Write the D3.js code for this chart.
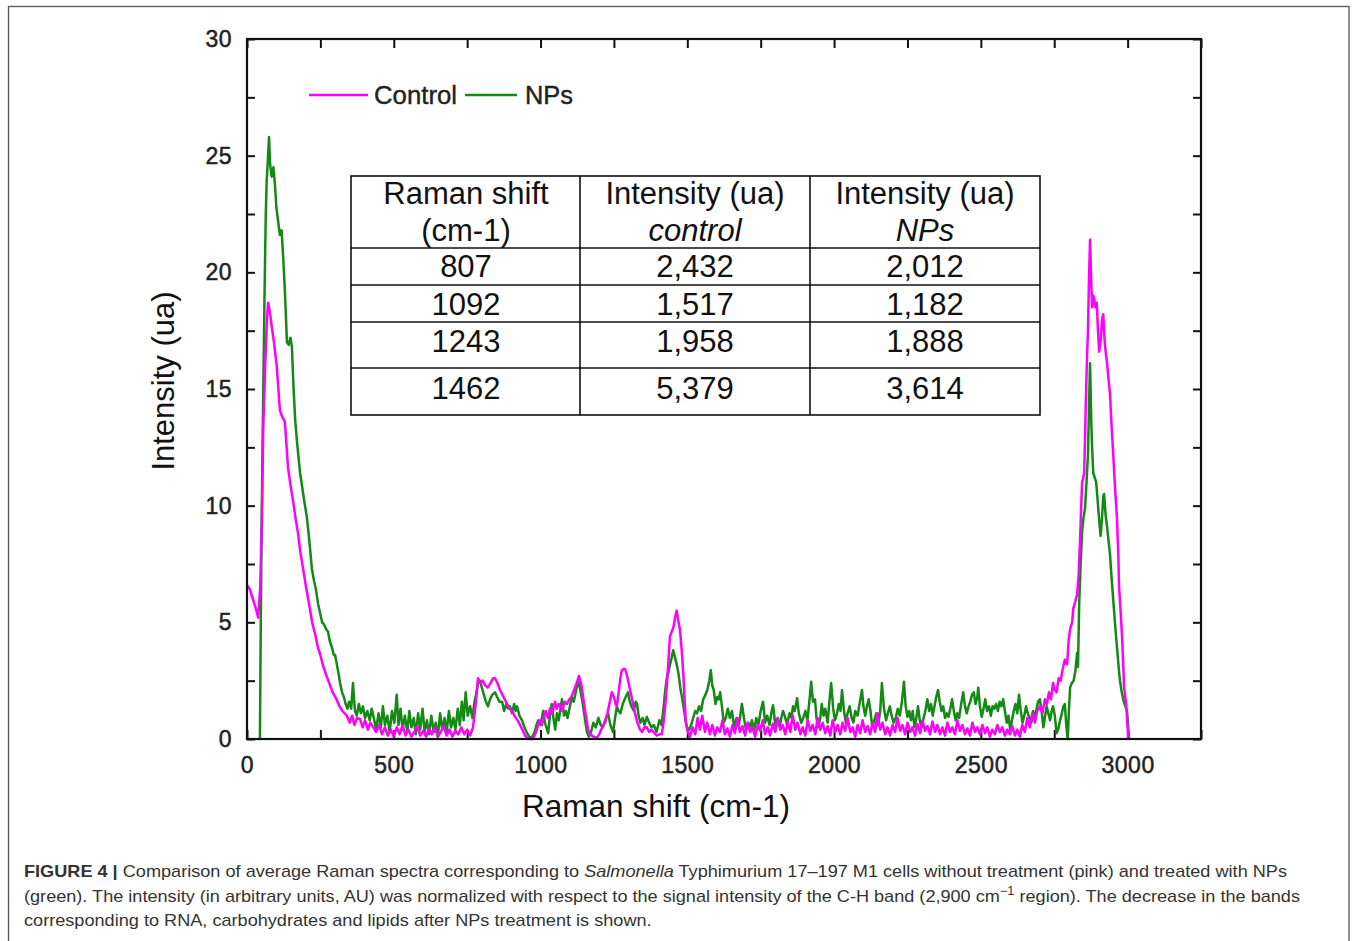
<!DOCTYPE html>
<html>
<head>
<meta charset="utf-8">
<script src="https://cdn.jsdelivr.net/npm/d3@7"></script>
<style>
  html, body { margin: 0; padding: 0; background: #fff; }
  svg { display: block; font-family: "Liberation Sans", Arial, Helvetica, sans-serif; }
</style>
</head>
<body>
<svg id="chart" width="1357" height="941"></svg>
<script>
// ---------------- DATA ----------------
const seriesNames = ["Control", "NPs"];
const xTickValues = [0, 500, 1000, 1500, 2000, 2500, 3000];
const yTickValues = [0, 5, 10, 15, 20, 25, 30];

// Control (pink) spectrum: [Raman shift, intensity]
const controlSpectrum = [
[0,6.6],[10,6.4],[20,6.0],[30,5.6],[38,5.2],[45,6.5],[51,9.5],[55,13.2],[62,16.0],[68,18.0],[72,18.7],[78,18.3],[84,17.7],[92,17.0],[101,16.0],[107,15.0],[112,14.1],[120,13.8],[129,13.6],[135,12.5],[140,11.6],[148,10.9],[157,10.2],[165,9.5],[174,8.8],[182,8.0],[191,7.3],[200,6.6],[207,6.1],[214,5.6],[222,5.0],[232,4.5],[242,3.9],[250,3.6],[260,3.1],[271,2.7],[280,2.4],[292,2.0],[305,1.7],[315,1.4],[325,1.2],[340,1.0],[350,0.7],[358,1.0],[366,0.6],[375,0.9],[385,0.85],[394,0.5],[402,0.8],[412,0.4],[420,0.7],[430,0.5],
[440,0.3],[450,0.6],[460,0.2],[470,0.5],[480,0.15],[490,0.4],[500,0.1],[510,0.5],[520,0.2],[530,0.6],[540,0.15],[550,0.4],[560,0.1],[570,0.3],[580,0.55],[590,0.15],[600,0.35],[610,0.1],[620,0.45],[630,0.2],[640,0.5],[650,0.1],[660,0.3],[670,0.55],[680,0.15],[690,0.4],[700,0.1],[710,0.35],[720,0.2],[730,0.5],[740,0.2],[750,0.4],[760,0.15],[770,0.5],
[780,1.6],[787,2.6],[795,2.4],[803,2.5],[811,2.3],[820,2.2],[830,2.4],[838,2.6],[845,2.6],[853,2.4],[862,2.1],[870,1.9],[878,1.7],[886,1.5],[895,1.3],[904,1.2],[913,0.95],[922,0.8],[930,0.6],[938,0.4],[947,0.15],[955,0.05],[965,0.0],[974,0.0],[985,0.3],[992,0.6],[998,0.8],[1005,0.6],[1012,1.0],[1018,1.2],[1025,0.9],[1032,1.3],[1040,1.1],[1049,1.6],[1055,1.3],[1062,1.5],[1066,1.45],[1074,1.2],[1082,1.6],[1090,1.5],[1098,1.7],[1105,1.8],[1111,2.0],[1120,2.3],[1126,2.5],[1131,2.7],[1138,2.4],[1145,1.8],[1152,1.2],[1158,0.7],[1162,0.4],[1170,0.2],[1180,0.1],[1192,0.05],[1200,0.2],[1210,0.5],[1220,0.7],[1228,1.1],[1236,1.6],[1243,2.0],[1250,1.8],[1256,1.5],[1260,1.4],[1266,2.0],[1272,2.6],[1277,2.95],[1283,3.0],[1288,3.0],[1295,2.7],[1300,2.4],[1305,2.1],[1312,1.7],[1318,1.3],[1322,1.1],[1330,0.7],[1339,0.4],[1346,0.3],[1354,0.5],[1362,0.5],[1370,0.3],[1378,0.4],[1385,0.3],[1395,0.15],[1405,0.2],[1413,0.2],[1420,0.8],[1426,1.6],[1431,2.4],[1436,3.4],[1441,4.4],[1447,4.6],[1453,4.8],[1458,5.2],[1464,5.5],[1470,5.0],[1475,4.7],[1481,3.8],[1487,2.65],[1491,1.6],[1495,0.7],[1502,0.3],[1509,0.1],
[1518,0.5],[1527,0.2],[1535,0.9],[1543,0.4],[1551,1.0],[1560,0.3],[1568,0.7],[1577,0.2],[1585,0.6],[1594,0.15],[1602,0.5],[1611,0.3],[1620,0.8],[1628,0.2],[1637,0.45],[1645,0.1],[1654,0.6],[1662,0.25],[1671,0.9],[1679,0.3],[1688,0.55],[1697,0.15],[1705,0.7],[1714,0.3],[1722,0.5],[1731,0.1],[1740,0.6],[1748,0.35],[1757,0.8],[1765,0.2],[1774,0.5],[1782,0.15],[1791,0.65],[1800,0.3],[1808,0.9],[1817,0.4],[1825,0.6],[1834,0.2],[1842,0.75],[1851,0.3],[1859,1.0],[1868,0.4],[1876,0.7],[1885,0.2],[1893,0.5],[1902,0.15],[1910,0.8],[1919,0.35],[1927,0.6],[1936,0.2],[1944,0.9],[1953,0.4],[1961,0.7],[1970,0.25],[1978,0.55],[1987,0.15],[1995,0.8],[2004,0.3],[2012,0.6],[2021,0.2],[2029,0.7],[2038,0.35],[2046,0.9],[2055,0.3],[2063,0.5],[2072,0.1],[2080,0.6],[2089,0.25],[2097,0.8],[2106,0.3],[2114,0.55],[2123,0.2],[2131,0.7],[2140,0.3],[2148,1.1],[2157,0.4],[2165,0.7],[2174,0.2],[2182,0.5],[2191,0.15],[2199,0.6],[2208,0.3],[2216,0.9],[2225,0.35],[2233,0.6],[2242,0.2],[2250,0.7],[2259,0.3],[2267,0.5],[2276,0.15],[2284,0.65],[2293,0.25],[2301,0.8],[2310,0.35],[2318,0.55],[2327,0.2],[2335,0.75],[2344,0.3],[2352,0.6],[2361,0.2],[2369,0.5],[2378,0.15],[2386,0.7],[2395,0.3],[2403,0.5],[2412,0.2],[2420,0.8],[2429,0.35],[2437,0.6],[2446,0.2],[2454,0.45],[2463,0.15],[2471,0.7],[2480,0.3],[2488,0.5],[2497,0.2],[2505,0.6],[2514,0.25],[2522,0.5],[2531,0.1],[2539,0.4],[2548,0.2],[2556,0.6],[2565,0.3],[2573,0.5],[2582,0.15],[2590,0.4],[2599,0.2],[2607,0.55],[2616,0.15],[2624,0.4],[2633,0.1],[2641,0.6],[2650,0.3],[2658,0.9],[2667,0.5],[2675,1.1],[2684,0.7],[2692,1.2],[2701,1.4],[2710,1.1],[2718,1.7],[2725,1.5],[2732,2.0],[2739,1.7],[2746,2.4],[2752,2.1],[2758,2.0],[2765,2.6],[2772,2.5],[2779,3.0],[2786,3.4],[2794,3.2],[2799,4.2],[2804,4.7],[2811,5.0],[2815,5.6],[2822,5.9],[2828,6.2],[2833,7.0],[2838,8.5],[2842,10.0],[2845,11.0],[2849,11.2],[2852,11.4],[2856,13.5],[2859,15.1],[2862,16.5],[2865,17.5],[2868,19.5],[2872,21.4],[2875,20.0],[2879,18.5],[2883,19.0],[2886,18.9],[2890,18.5],[2895,18.7],[2899,17.5],[2903,16.6],[2908,17.0],[2913,18.0],[2917,18.2],[2922,17.0],[2926,16.5],[2930,16.1],[2935,15.4],[2940,14.8],[2945,13.5],[2951,12.2],[2957,10.8],[2964,9.4],[2968,8.0],[2971,6.5],[2976,5.5],[2981,4.4],[2985,3.2],[2988,2.2],[2995,1.5],[3000,0.5],[3002,0.0]
];

// NPs (green) spectrum: [Raman shift, intensity]
const npsSpectrum = [
[40,0],[44,0],[47,5.0],[50,9.5],[55,14.5],[60,19.3],[64,22.5],[67,23.9],[71,24.8],[75,25.8],[79,24.6],[84,24.1],[90,24.5],[95,23.8],[100,22.8],[106,22.2],[112,21.6],[118,21.8],[123,20.7],[128,19.5],[133,18.0],[136,17.0],[142,16.9],[148,17.2],[153,16.8],[158,15.2],[164,13.7],[170,12.8],[176,12.0],[181,11.4],[188,10.8],[195,10.2],[204,9.5],[210,8.8],[216,8.0],[221,7.3],[228,6.8],[235,6.4],[242,5.8],[249,5.4],[256,5.0],[263,4.9],[270,4.7],[276,4.6],[282,4.2],[290,3.9],[296,3.6],[300,3.6],[306,3.2],[312,2.8],[317,2.4],[324,2.0],[330,1.8],[336,1.5],[342,1.3],[348,1.6],[355,1.3],[361,2.4],[366,1.5],[368,1.2],[374,1.0],[381,1.5],[388,1.1],[395,1.4],[402,0.9],[410,1.2],[418,0.8],[425,1.3],[432,0.9],
[440,0.4],[448,1.1],[456,0.5],[463,1.4],[470,0.6],[478,1.0],[486,0.3],[494,1.2],[502,0.7],[510,1.9],[516,0.6],[523,1.3],[530,0.4],[538,1.0],[546,0.3],[553,1.2],[560,0.5],[568,0.9],[575,0.2],[583,1.1],[590,0.4],[598,1.3],[605,0.3],[613,0.8],[620,0.2],[628,1.0],[636,0.3],[643,0.7],[650,0.1],[658,1.1],[665,0.4],[673,0.9],[680,0.3],[688,1.2],[695,0.5],[703,0.9],[710,0.4],[718,1.3],[725,0.6],[732,1.6],[738,0.8],[745,2.0],[752,1.0],[760,1.4],[768,0.9],[775,1.6],
[782,2.0],[788,2.5],[794,2.5],[800,2.2],[807,1.9],[814,1.6],[821,1.4],[828,1.7],[836,1.9],[845,2.0],[852,1.8],[860,1.6],[869,1.6],[876,1.2],[883,1.5],[890,1.3],[896,1.4],[903,1.1],[910,1.5],[915,1.2],[920,1.4],[928,1.0],[937,0.8],[945,0.5],[954,0.25],[962,0.1],[970,0.05],[980,0.3],[986,0.6],[992,0.8],[1000,0.6],[1009,1.2],[1015,0.7],[1020,0.5],[1026,0.25],[1032,1.0],[1038,1.5],[1044,0.9],[1050,0.4],[1056,1.1],[1062,0.8],[1068,1.3],[1073,1.7],[1080,1.0],[1086,1.2],[1092,0.9],[1100,1.4],[1107,1.8],[1113,1.6],[1120,2.0],[1128,2.5],[1134,2.2],[1140,1.8],[1145,1.4],[1152,0.8],[1158,0.3],[1165,0.1],[1172,0.3],[1180,0.7],[1188,0.5],[1197,0.9],[1205,0.6],[1212,0.5],[1220,0.8],[1230,1.1],[1238,0.6],[1247,0.3],[1254,0.9],[1260,1.4],[1266,1.2],[1272,1.1],[1280,1.5],[1290,1.8],[1298,2.0],[1304,1.6],[1310,1.4],[1318,1.2],[1324,1.6],[1329,1.5],[1334,1.0],[1340,0.7],[1348,0.9],[1354,0.6],[1362,0.95],[1370,0.7],[1378,0.5],[1386,0.6],[1395,0.3],[1405,0.8],[1412,0.6],[1418,1.2],[1424,2.0],[1430,2.6],[1436,2.9],[1441,3.2],[1447,3.5],[1452,3.8],[1458,3.5],[1464,3.2],[1470,2.8],[1476,2.2],[1482,1.8],[1488,1.3],[1494,0.8],[1499,0.5],
[1506,0.4],[1513,0.6],[1520,0.9],[1527,1.2],[1533,1.1],[1540,1.4],[1547,1.2],[1554,1.7],[1562,1.9],[1568,2.1],[1575,2.5],[1580,2.95],[1585,2.3],[1590,2.1],[1596,1.5],[1602,1.8],[1607,1.7],[1612,2.0],[1618,1.4],[1624,0.7],[1631,0.9],[1638,1.3],[1645,0.9],[1652,1.2],[1660,0.5],[1668,0.9],[1676,0.6],[1686,1.5],[1693,0.9],[1700,0.4],[1708,0.7],[1715,0.5],[1720,0.8],[1728,0.4],[1735,0.9],[1742,0.6],[1750,1.2],[1758,1.6],[1765,0.7],[1772,1.0],[1780,0.6],[1786,1.1],[1792,1.45],[1800,0.6],[1808,0.9],[1815,0.5],[1820,0.9],[1826,1.2],[1833,0.95],[1840,0.6],[1848,1.1],[1855,0.9],[1860,1.4],[1866,1.2],[1874,1.75],[1880,1.1],[1888,0.7],[1895,0.9],[1902,1.2],[1909,0.8],[1915,1.5],[1922,2.45],[1928,1.6],[1935,1.7],[1940,0.9],[1946,0.5],[1953,0.9],[1958,1.5],[1964,1.0],[1970,1.3],[1978,0.7],[1984,1.6],[1990,2.4],[1997,1.3],[2003,0.8],[2010,1.1],[2016,1.5],[2022,1.2],[2027,2.1],[2034,1.2],[2040,0.7],[2046,1.1],[2053,1.4],[2060,0.9],[2066,0.7],[2072,1.2],[2080,1.0],[2088,1.6],[2095,2.1],[2100,1.4],[2106,1.0],[2112,1.4],[2118,1.7],[2124,1.2],[2130,0.5],[2137,0.8],[2144,1.1],[2150,0.6],[2157,1.2],[2163,2.4],[2170,1.3],[2177,0.8],[2183,1.1],[2190,1.4],[2196,1.0],[2203,0.7],[2210,0.9],[2217,1.3],[2224,1.0],[2231,1.6],[2238,2.45],[2244,1.4],[2250,0.95],[2256,1.2],[2262,0.8],[2268,1.2],[2274,0.5],[2280,0.9],[2286,1.4],[2292,0.8],[2298,0.5],[2305,0.9],[2311,1.2],[2318,1.7],[2324,1.2],[2330,1.5],[2336,1.0],[2342,1.4],[2348,1.8],[2354,2.1],[2360,1.6],[2366,1.2],[2372,1.4],[2378,0.9],[2384,1.1],[2390,0.95],[2396,1.3],[2402,1.7],[2408,1.2],[2414,0.8],[2420,1.1],[2426,0.9],[2433,1.5],[2440,2.0],[2446,1.4],[2452,1.1],[2458,1.4],[2464,1.6],[2470,1.9],[2476,2.0],[2482,1.5],[2488,1.8],[2491,2.2],[2497,1.4],[2503,0.95],[2509,1.3],[2515,1.7],[2521,1.2],[2528,1.4],[2534,1.0],[2540,1.4],[2546,1.3],[2552,1.5],[2558,1.2],[2564,1.6],[2570,1.4],[2576,1.7],[2582,1.2],[2588,0.7],[2594,1.0],[2600,0.4],[2606,0.8],[2612,1.2],[2618,1.5],[2624,1.1],[2630,1.9],[2636,1.2],[2642,0.7],[2648,1.0],[2654,1.4],[2660,1.1],[2666,0.9],[2672,0.7],[2678,1.2],[2684,0.9],[2690,1.3],[2695,1.6],[2701,1.7],[2707,1.2],[2713,0.5],[2718,0.9],[2724,1.4],[2730,1.1],[2736,0.8],[2741,1.2],[2746,1.4],[2752,1.0],[2758,0.25],[2763,0.4],[2770,0.8],[2776,1.1],[2781,1.4],[2786,1.5],[2791,0.6],[2796,0.0],[2800,1.2],[2804,2.2],[2810,2.4],[2816,2.5],[2822,2.9],[2828,3.7],[2831,3.1],[2835,5.8],[2840,7.5],[2845,8.9],[2850,9.5],[2855,9.9],[2860,11.0],[2865,12.2],[2868,14.0],[2872,16.1],[2876,13.7],[2879,12.5],[2883,11.4],[2888,11.2],[2893,11.0],[2898,10.2],[2903,9.4],[2908,8.7],[2913,9.5],[2917,10.4],[2920,10.5],[2925,9.6],[2930,9.1],[2935,8.5],[2940,7.9],[2946,6.8],[2952,5.8],[2958,4.8],[2964,3.9],[2970,3.0],[2974,2.5],[2980,2.0],[2985,1.7],[2990,1.5],[2998,1.2],[3002,0.5],[3005,0.0]
];

// Inset table
const tableHeader1 = ["Raman shift", "Intensity (ua)", "Intensity (ua)"];
const tableHeader2 = ["(cm-1)", "control", "NPs"];
const tableShift = ["807", "1092", "1243", "1462"];
const tableControl = ["2,432", "1,517", "1,958", "5,379"];
const tableNPs = ["2,012", "1,182", "1,888", "3,614"];

const xAxisTitle = "Raman shift (cm-1)";
const yAxisTitle = "Intensity (ua)";

// ---------------- DRAW ----------------
const svg = d3.select("#chart");
const colors = { Control: "#ff00ff", NPs: "#138a13" };

// outer figure border
svg.append("rect").attr("x", 8.5).attr("y", 6.5).attr("width", 1340.5).attr("height", 960)
  .attr("fill", "none").attr("stroke", "#555").attr("stroke-width", 1.3);

const x = d3.scaleLinear().domain([0, 3250]).range([247, 1201]);
const y = d3.scaleLinear().domain([0, 30]).range([739, 39]);

const xMinor = d3.range(0, 3251, 250);
const yMinor = d3.range(0, 30.01, 2.5);

function styleAxis(g) {
  g.select(".domain").remove();
  g.selectAll(".tick line").attr("stroke", "#111").attr("stroke-width", 2);
}
svg.append("g").attr("transform", "translate(0,739)")
  .call(d3.axisBottom(x).tickValues(xMinor).tickSize(-9).tickFormat(""))
  .call(styleAxis);
svg.append("g").attr("transform", "translate(0,39)")
  .call(d3.axisTop(x).tickValues(xMinor).tickSize(-9).tickFormat(""))
  .call(styleAxis);
svg.append("g").attr("transform", "translate(247,0)")
  .call(d3.axisLeft(y).tickValues(yMinor).tickSize(-8).tickFormat(""))
  .call(styleAxis);
svg.append("g").attr("transform", "translate(1201,0)")
  .call(d3.axisRight(y).tickValues(yMinor).tickSize(-8).tickFormat(""))
  .call(styleAxis);

// tick labels
const labFont = 23;
const xLab = svg.append("g").attr("transform", "translate(0,739)")
  .call(d3.axisBottom(x).tickValues(xTickValues).tickSize(0).tickPadding(18).tickFormat(d3.format("d")));
xLab.select(".domain").remove();
xLab.selectAll("text").attr("font-size", labFont).attr("fill", "#222")
  .attr("font-family", "'Liberation Sans', Arial, sans-serif").attr("stroke", "#222").attr("stroke-width", 0.5)
  .attr("letter-spacing", 0.5);

const yLab = svg.append("g").attr("transform", "translate(247,0)")
  .call(d3.axisLeft(y).tickValues(yTickValues).tickSize(0).tickPadding(15).tickFormat(d3.format("d")));
yLab.select(".domain").remove();
yLab.selectAll("text").attr("font-size", labFont).attr("fill", "#222")
  .attr("font-family", "'Liberation Sans', Arial, sans-serif").attr("stroke", "#222").attr("stroke-width", 0.5)
  .attr("letter-spacing", 0.5);

// lines
const line = d3.line().x(d => x(d[0])).y(d => y(d[1]));
svg.append("path").datum(npsSpectrum).attr("d", line)
  .attr("fill", "none").attr("stroke", colors.NPs).attr("stroke-width", 2.5).attr("stroke-linejoin", "round");
svg.append("path").datum(controlSpectrum).attr("d", line)
  .attr("fill", "none").attr("stroke", colors.Control).attr("stroke-width", 2.5).attr("stroke-linejoin", "round");

// frame
svg.append("rect").attr("x", x(0)).attr("y", y(30)).attr("width", x(3250) - x(0)).attr("height", y(0) - y(30))
  .attr("fill", "none").attr("stroke", "#111").attr("stroke-width", 2.2);

// axis titles
svg.append("text").attr("x", 656).attr("y", 817).attr("text-anchor", "middle")
  .attr("font-size", 31.5).attr("fill", "#111").text(xAxisTitle);
svg.append("text").attr("transform", "translate(174,381) rotate(-90)").attr("text-anchor", "middle")
  .attr("font-size", 31).attr("fill", "#111").text(yAxisTitle);

// legend
const legend = svg.append("g");
legend.append("line").attr("x1", 309).attr("x2", 368).attr("y1", 95).attr("y2", 95)
  .attr("stroke", colors.Control).attr("stroke-width", 2.4);
legend.append("text").attr("x", 374).attr("y", 104).attr("font-size", 25).attr("fill", "#222")
  .attr("stroke", "#222").attr("stroke-width", 0.4).attr("textLength", 83).attr("lengthAdjust", "spacingAndGlyphs")
  .text(seriesNames[0]);
legend.append("line").attr("x1", 465).attr("x2", 517).attr("y1", 95).attr("y2", 95)
  .attr("stroke", colors.NPs).attr("stroke-width", 2.4);
legend.append("text").attr("x", 525).attr("y", 104).attr("font-size", 25).attr("fill", "#222")
  .attr("stroke", "#222").attr("stroke-width", 0.4).attr("textLength", 48).attr("lengthAdjust", "spacingAndGlyphs")
  .text(seriesNames[1]);

// table
const tbl = svg.append("g");
const colX = [351, 580, 810, 1040];
const rowY = [176, 248, 285, 322, 368, 415];
tbl.append("rect").attr("x", colX[0]).attr("y", rowY[0]).attr("width", colX[3] - colX[0]).attr("height", rowY[5] - rowY[0])
  .attr("fill", "#fff").attr("stroke", "#111").attr("stroke-width", 1.6);
[colX[1], colX[2]].forEach(cx => tbl.append("line").attr("x1", cx).attr("x2", cx).attr("y1", rowY[0]).attr("y2", rowY[5])
  .attr("stroke", "#111").attr("stroke-width", 1.6));
rowY.slice(1, 5).forEach(ry => tbl.append("line").attr("x1", colX[0]).attr("x2", colX[3]).attr("y1", ry).attr("y2", ry)
  .attr("stroke", "#111").attr("stroke-width", 1.6));
const colC = [466, 695, 925];
const tFont = 31;
tableHeader1.forEach((t, i) => tbl.append("text").attr("x", colC[i]).attr("y", 204).attr("text-anchor", "middle")
  .attr("font-size", tFont).attr("fill", "#111").text(t));
tableHeader2.forEach((t, i) => tbl.append("text").attr("x", colC[i]).attr("y", 241).attr("text-anchor", "middle")
  .attr("font-size", tFont).attr("fill", "#111").attr("font-style", i > 0 ? "italic" : "normal").text(t));
const rowCenters = [266, 304, 341, 388];
[tableShift, tableControl, tableNPs].forEach((col, i) => {
  col.forEach((t, r) => tbl.append("text").attr("x", colC[i]).attr("y", rowCenters[r] + 11).attr("text-anchor", "middle")
    .attr("font-size", tFont).attr("fill", "#111").text(t));
});

// caption
const cap = svg.append("g").attr("font-size", 17).attr("fill", "#333");
const l1 = cap.append("text").attr("x", 24).attr("y", 877);
l1.append("tspan").attr("font-weight", "bold").text("FIGURE 4 | ");
l1.append("tspan").text("Comparison of average Raman spectra corresponding to ");
l1.append("tspan").attr("font-style", "italic").text("Salmonella");
l1.append("tspan").text(" Typhimurium 17–197 M1 cells without treatment (pink) and treated with NPs");
const l2 = cap.append("text").attr("x", 24).attr("y", 902);
l2.append("tspan").text("(green). The intensity (in arbitrary units, AU) was normalized with respect to the signal intensity of the C-H band (2,900 cm");
l2.append("tspan").attr("font-size", 12).attr("dy", -7).text("−1");
l2.append("tspan").attr("dy", 7).text(" region). The decrease in the bands");
const l3 = cap.append("text").attr("x", 24).attr("y", 926)
  .text("corresponding to RNA, carbohydrates and lipids after NPs treatment is shown.");
const w1 = l1.node().getComputedTextLength();
const k = 1263 / w1;
l1.attr("textLength", 1263).attr("lengthAdjust", "spacingAndGlyphs");
l2.attr("textLength", 1276).attr("lengthAdjust", "spacingAndGlyphs");
l3.attr("textLength", l3.node().getComputedTextLength() * k).attr("lengthAdjust", "spacingAndGlyphs");
</script>
</body>
</html>
